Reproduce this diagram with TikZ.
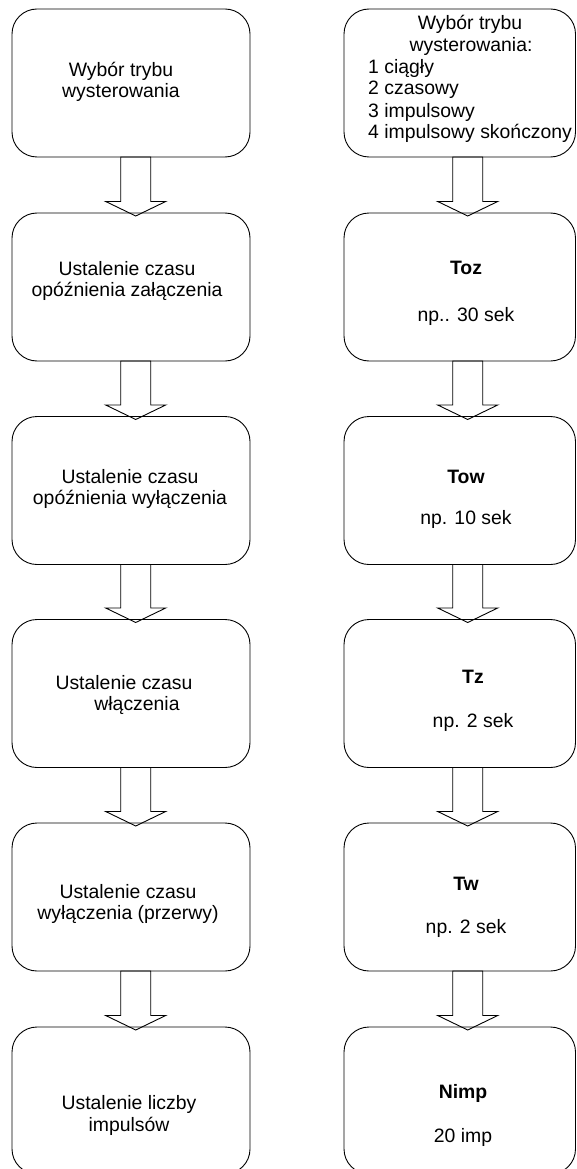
\documentclass[tikz,border=0pt]{standalone}
\usepackage{fontspec}
\setmainfont{Liberation Sans}
\newcommand\blockarrow[3]{%
  \draw[blockarr] ([xshift=#3-15pt]#1.south)
    -- ([xshift=#3-15pt,yshift=11.5pt]#2.north)
    -- ([xshift=#3-30pt,yshift=11.5pt]#2.north)
    -- ([xshift=#3,yshift=-3pt]#2.north)
    -- ([xshift=#3+30pt,yshift=11.5pt]#2.north)
    -- ([xshift=#3+15pt,yshift=11.5pt]#2.north)
    -- ([xshift=#3+15pt]#1.south) -- cycle;}
\begin{document}
\begin{tikzpicture}[x=1pt,y=-1pt,
  box/.style={draw, rounded corners=25pt, line width=0.9pt, inner sep=0pt, outer sep=0pt, minimum height=148pt},
  lbox/.style={box, minimum width=238pt},
  rbox/.style={box, minimum width=231.5pt},
  txt/.style={inner sep=0pt, align=center, font=\fontsize{19.4}{21.5}\selectfont},
  btxt/.style={txt, font=\fontsize{19.4}{21.5}\selectfont\bfseries},
  blockarr/.style={draw, line width=0.9pt, line join=miter}]
\useasboundingbox (0,0) rectangle (576,1169);
% left column
\node[lbox] (L1) at (131,83) {};
\node[lbox] (L2) at (131,287) {};
\node[lbox] (L3) at (131,490.5) {};
\node[lbox] (L4) at (131,693.5) {};
\node[lbox] (L5) at (131,897) {};
\node[lbox, minimum height=147pt] (L6) at (131,1100.5) {};
% right column
\node[rbox] (R1) at (459.75,83) {};
\node[rbox] (R2) at (459.75,287) {};
\node[rbox] (R3) at (459.75,490.5) {};
\node[rbox] (R4) at (459.75,693.5) {};
\node[rbox] (R5) at (459.75,897) {};
\node[rbox, minimum height=147pt] (R6) at (459.75,1100.5) {};
% left texts
\node[txt] (tL1) at (121,82) {Wybór trybu\\wysterowania};
\node[txt] (tL2) at (127,281) {Ustalenie czasu\\opóźnienia załączenia};
\node[txt] (tL3) at (130,489) {Ustalenie czasu\\opóźnienia wyłączenia};
\node[txt] (tL4) at (124,695) {Ustalenie czasu\\\hspace*{26pt}włączenia};
\node[txt] (tL5) at (128,904) {Ustalenie czasu\\wyłączenia (przerwy)};
\node[txt] (tL6) at (129,1115.5) {Ustalenie liczby\\impulsów};
% right texts
\node[txt, anchor=base] (tR1a) at (470,29.3) {Wybór trybu};
\node[txt, anchor=base] (tR1b) at (471,51.7) {wysterowania:};
\node[txt, anchor=base west] (tR1c) at (368,74) {1 ciągły};
\node[txt, anchor=base west] (tR1d) at (368,95) {2 czasowy};
\node[txt, anchor=base west] (tR1e) at (368,117.3) {3 impulsowy};
\node[txt, anchor=base west] (tR1f) at (368,138.3) {4 impulsowy skończony};
\node[btxt] (tR2a) at (466,268) {Toz};
\node[txt] (tR2b) at (466,316) {np.. 30 sek};
\node[btxt] (tR3a) at (466,477) {Tow};
\node[txt] (tR3b) at (466,519) {np. 10 sek};
\node[btxt] (tR4a) at (473,677) {Tz};
\node[txt] (tR4b) at (473,722) {np. 2 sek};
\node[btxt] (tR5a) at (466,884) {Tw};
\node[txt] (tR5b) at (466,928) {np. 2 sek};
\node[btxt] (tR6a) at (463,1093) {Nimp};
\node[txt] (tR6b) at (463,1137) {20 imp};
% block arrows
\blockarrow{L1}{L2}{4.7pt}
\blockarrow{L2}{L3}{4.7pt}
\blockarrow{L3}{L4}{4.7pt}
\blockarrow{L4}{L5}{4.7pt}
\blockarrow{L5}{L6}{4.7pt}
\blockarrow{R1}{R2}{7.95pt}
\blockarrow{R2}{R3}{7.95pt}
\blockarrow{R3}{R4}{7.95pt}
\blockarrow{R4}{R5}{7.95pt}
\blockarrow{R5}{R6}{7.95pt}
\end{tikzpicture}
\end{document}
